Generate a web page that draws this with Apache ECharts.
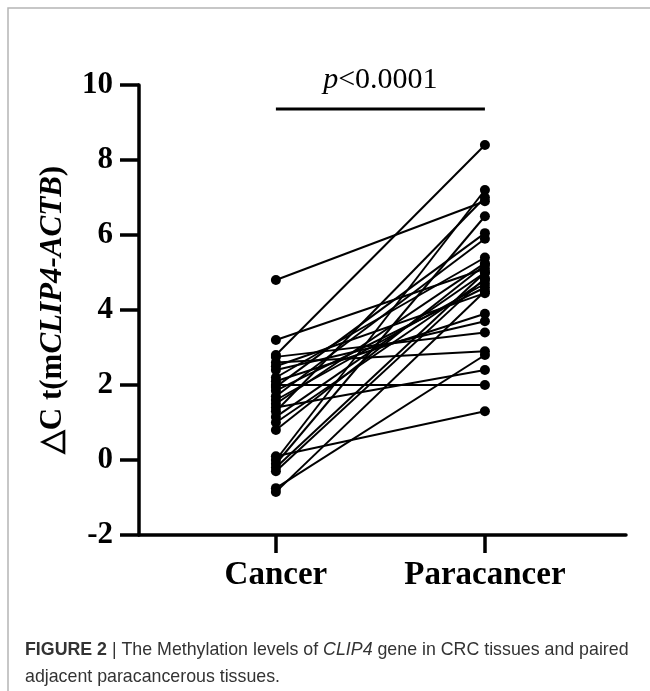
<!DOCTYPE html>
<html>
<head>
<meta charset="utf-8">
<script src="https://cdn.jsdelivr.net/npm/echarts@6/dist/echarts.min.js"></script>
<style>html,body{margin:0;padding:0;background:#fff;}#c{width:650px;height:691px;}</style>
</head>
<body>
<div id="c"></div>
<script>
var categories = ['Cancer', 'Paracancer'];
var cancerValues = [4.8, 2.8, 2.0, 0.1, 1.4, -0.75, 2.6, 3.2, 0.0, -0.1, -0.2, -0.3, -0.85,
  2.75, 2.5, 2.4, 2.2, 2.1, 1.95, 1.85, 1.7, 1.6, 1.5, 1.3, 1.15, 1.0, 0.8];
var paracancerValues = [6.9, 8.4, 2.0, 1.3, 2.4, 2.8, 2.9, 5.1, 7.2, 6.5, 5.0, 4.85, 4.5,
  3.4, 4.45, 3.7, 5.4, 3.9, 6.05, 4.6, 5.9, 4.7, 5.25, 7.0, 5.0, 4.8, 5.2];
var yTicks = [-2, 0, 2, 4, 6, 8, 10];
var sigBarValue = 9.36;
var sigText = 'p<0.0001';

var chart = echarts.init(document.getElementById('c'));
var serif = '"Liberation Serif", "Times New Roman", serif';
var sans = '"Liberation Sans", Arial, sans-serif';
var series = [];
for (var i = 0; i < cancerValues.length; i++) {
  series.push({
    type: 'line',
    data: [[1, cancerValues[i]], [2, paracancerValues[i]]],
    symbol: 'circle',
    symbolSize: 10,
    lineStyle: {color: '#000', width: 2},
    itemStyle: {color: '#000'},
    silent: true,
    animation: false,
    z: 3
  });
}
series.push({
  type: 'line',
  data: [[1, sigBarValue], [2, sigBarValue]],
  symbol: 'none',
  lineStyle: {color: '#000', width: 3},
  animation: false,
  markPoint: {
    symbol: 'rect', symbolSize: 0,
    data: [{coord: [1.5, sigBarValue]}],
    label: {
      show: true, position: 'top', distance: 14,
      formatter: '{i|p}{n|<0.0001}',
      rich: {
        i: {fontFamily: serif, fontStyle: 'italic', fontSize: 30, color: '#000'},
        n: {fontFamily: serif, fontSize: 30, color: '#000'}
      }
    }
  }
});

chart.setOption({
  backgroundColor: '#fff',
  animation: false,
  grid: {left: 139, right: 24, top: 85, bottom: 156},
  title: {
    left: 20, top: 632,
    text: '{b|FIGURE 2} | The Methylation levels of {i|CLIP4} gene in CRC tissues and paired\nadjacent paracancerous tissues.',
    textStyle: {
      fontFamily: sans,
      fontSize: 17.8, fontWeight: 'normal', color: '#333', lineHeight: 27,
      rich: {
        b: {fontFamily: sans, fontSize: 17.8, fontWeight: 'bold', color: '#333'},
        i: {fontFamily: sans, fontSize: 17.8, fontStyle: 'italic', color: '#333'}
      }
    }
  },
  graphic: [{
    type: 'rect', shape: {x: 8, y: 8, width: 700, height: 700},
    style: {fill: 'none', stroke: '#b5b5b5', lineWidth: 1.5}, silent: true
  }],
  xAxis: {
    type: 'value', min: 0.345, max: 2.675,
    splitLine: {show: false},
    axisLine: {onZero: false, lineStyle: {color: '#000', width: 3.5}},
    axisTick: {show: true, customValues: [1, 2], length: 18, lineStyle: {color: '#000', width: 3.5}},
    axisLabel: {
      customValues: [1, 2], margin: 24,
      formatter: function (v) { return categories[Math.round(v) - 1]; },
      fontFamily: serif, fontWeight: 'bold', fontSize: 33, color: '#000'
    }
  },
  yAxis: {
    type: 'value', min: -2, max: 10, interval: 2,
    splitLine: {show: false},
    axisLine: {show: true, onZero: false, lineStyle: {color: '#000', width: 3.5}},
    axisTick: {show: true, length: 19, lineStyle: {color: '#000', width: 3.5}},
    axisLabel: {
      margin: 26, fontFamily: serif, fontWeight: 'bold', fontSize: 31, color: '#000',
      formatter: function (v) { return yTicks.indexOf(v) >= 0 ? String(v) : ''; }
    },
    name: '{n|\u25B3C t(m}{i|CLIP4-ACTB}{n|)}',
    nameLocation: 'middle', nameRotate: 90, nameGap: 71,
    nameTextStyle: {
      rich: {
        n: {fontFamily: serif, fontWeight: 'bold', fontSize: 31, color: '#000'},
        i: {fontFamily: serif, fontWeight: 'bold', fontStyle: 'italic', fontSize: 31, color: '#000'}
      }
    }
  },
  series: series
});
</script>
</body>
</html>
